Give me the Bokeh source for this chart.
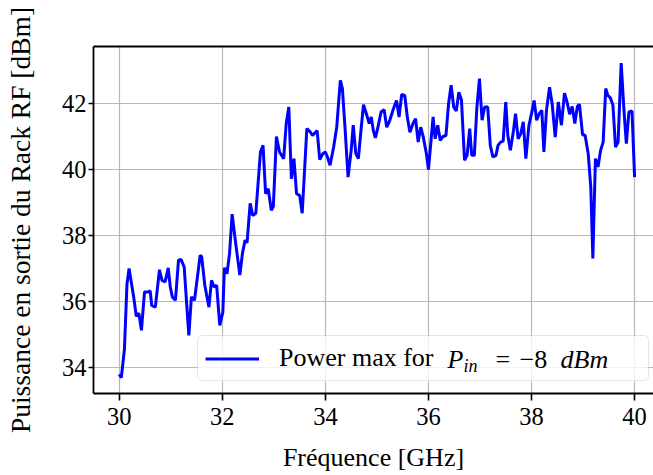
from bokeh.plotting import figure
from bokeh.models import Range1d, FixedTicker, LinearAxis, Legend, LegendItem, Label, BoxAnnotation
from bokeh.embed import file_html
from bokeh.resources import INLINE

# ---- data ----
freq_ghz = [30.00, 30.04, 30.10, 30.15, 30.19, 30.28, 30.33, 30.38, 30.43, 30.49,
            30.56, 30.60, 30.63, 30.70, 30.78, 30.83, 30.89, 30.95, 30.99, 31.03,
            31.09, 31.15, 31.20, 31.26, 31.35, 31.40, 31.46, 31.57, 31.60, 31.66,
            31.74, 31.79, 31.84, 31.89, 31.95, 32.01, 32.04, 32.09, 32.14, 32.19,
            32.26, 32.34, 32.39, 32.44, 32.48, 32.54, 32.59, 32.65, 32.74, 32.79,
            32.84, 32.89, 32.95, 32.99, 33.05, 33.11, 33.19, 33.24, 33.29, 33.34,
            33.39, 33.44, 33.50, 33.55, 33.64, 33.71, 33.75, 33.84, 33.89, 33.95,
            34.00, 34.04, 34.09, 34.16, 34.22, 34.29, 34.33, 34.38, 34.44, 34.50,
            34.54, 34.59, 34.64, 34.69, 34.74, 34.81, 34.85, 34.89, 34.93, 34.97,
            35.02, 35.08, 35.14, 35.19, 35.25, 35.32, 35.38, 35.43, 35.48, 35.54,
            35.59, 35.64, 35.70, 35.75, 35.80, 35.85, 35.90, 35.96, 36.00, 36.09,
            36.13, 36.18, 36.23, 36.28, 36.34, 36.39, 36.44, 36.49, 36.54, 36.59,
            36.64, 36.70, 36.75, 36.80, 36.84, 36.89, 36.94, 36.99, 37.04, 37.09,
            37.15, 37.20, 37.25, 37.31, 37.35, 37.40, 37.45, 37.50, 37.54, 37.59,
            37.65, 37.69, 37.74, 37.79, 37.84, 37.89, 37.95, 38.00, 38.05, 38.10,
            38.15, 38.20, 38.24, 38.29, 38.35, 38.40, 38.46, 38.52, 38.58, 38.64,
            38.69, 38.74, 38.79, 38.84, 38.89, 38.93, 38.99, 39.04, 39.10, 39.15,
            39.19, 39.24, 39.29, 39.34, 39.39, 39.44, 39.48, 39.53, 39.58, 39.63,
            39.68, 39.74, 39.79, 39.84, 39.89, 39.95, 40.00]

power_dbm = [33.80, 33.70, 34.55, 36.54, 37.00, 36.14, 35.55, 35.65, 35.13, 36.29,
             36.29, 36.32, 35.88, 35.83, 36.96, 36.64, 36.59, 37.02, 36.44, 36.14,
             36.04, 37.25, 37.27, 37.04, 34.98, 36.14, 36.04, 37.40, 37.35, 36.49,
             35.83, 36.64, 36.44, 36.49, 35.28, 35.68, 37.02, 36.84, 37.45, 38.64,
             37.75, 36.80, 37.45, 37.85, 37.78, 38.97, 38.60, 38.67, 40.52, 40.72,
             39.26, 39.41, 38.76, 38.88, 40.99, 40.52, 40.32, 41.38, 41.88, 39.71,
             40.32, 39.26, 39.21, 38.67, 41.23, 41.12, 41.02, 41.17, 40.29, 40.47,
             40.52, 40.37, 40.12, 40.67, 41.27, 42.69, 42.44, 41.27, 39.76, 40.57,
             41.33, 40.47, 40.32, 41.17, 41.95, 41.60, 41.38, 41.58, 41.17, 40.95,
             41.27, 41.73, 41.80, 41.27, 41.48, 41.83, 42.08, 41.58, 42.26, 42.23,
             41.58, 41.12, 41.38, 41.53, 40.82, 41.27, 40.97, 40.47, 39.99, 41.58,
             40.92, 41.33, 40.87, 40.99, 41.02, 41.98, 42.54, 41.88, 41.76, 42.33,
             42.10, 40.27, 40.42, 41.23, 40.42, 40.42, 41.88, 42.74, 41.48, 41.88,
             41.88, 40.72, 40.37, 40.42, 40.72, 40.82, 40.85, 42.03, 41.02, 40.57,
             41.17, 41.68, 40.92, 41.07, 41.43, 40.32, 41.33, 41.68, 42.08, 41.48,
             41.68, 41.78, 40.52, 41.78, 42.48, 41.98, 40.97, 42.03, 41.33, 42.30,
             42.03, 41.66, 41.90, 41.38, 41.90, 41.96, 41.05, 41.02, 40.47, 39.46,
             37.30, 40.32, 40.07, 40.57, 40.82, 42.44, 42.23, 42.16, 41.93, 40.67,
             40.82, 43.21, 41.88, 40.77, 41.73, 41.76, 39.76]

x_ticks = [30, 32, 34, 36, 38, 40]
y_ticks = [34, 36, 38, 40, 42]
x_label = "Fréquence [GHz]"
y_label = "Puissance en sortie du Rack RF [dBm]"
legend_text = "Power max for"
legend_math_p = "P"
legend_math_sub = "in"
legend_math_eq = "="
legend_math_val = "−8"
legend_math_unit = "dBm"

FONT = "Liberation Serif"

p = figure(width=653, height=475, output_backend="svg", toolbar_location=None,
           x_range=Range1d(29.5, 40.367), y_range=Range1d(33.22, 43.71),
           min_border_left=93, min_border_right=0, min_border_top=46, min_border_bottom=82)
p.outline_line_color = None
p.background_fill_color = "white"
p.border_fill_color = "white"

line = p.line(freq_ghz, power_dbm, line_color="#0000ff", line_width=3)

for ax in (p.xaxis[0], p.yaxis[0]):
    ax.axis_line_color = "black"
    ax.axis_line_width = 1.8
    ax.major_tick_line_color = "black"
    ax.major_tick_line_width = 1.6
    ax.major_tick_out = 7
    ax.major_tick_in = 0
    ax.minor_tick_out = 0
    ax.minor_tick_in = 0
    ax.major_label_standoff = 7
    ax.major_label_text_font = FONT
    ax.major_label_text_font_size = "24.5px"
    ax.major_label_text_color = "black"
    ax.major_label_text_line_height = 1.0
    ax.axis_label_text_font = FONT
    ax.axis_label_text_font_style = "normal"
    ax.axis_label_text_color = "black"
    ax.axis_label_text_line_height = 1.0

p.xaxis.ticker = FixedTicker(ticks=x_ticks)
p.yaxis.ticker = FixedTicker(ticks=y_ticks)
p.xaxis.axis_label = x_label
p.yaxis.axis_label = y_label
p.xaxis.axis_label_text_font_size = "26px"
p.yaxis.axis_label_text_font_size = "27.5px"
p.xaxis.axis_label_standoff = 15
p.yaxis.major_tick_out = 5
p.yaxis.major_label_standoff = 2
p.yaxis.axis_label_standoff = 23

top = LinearAxis(ticker=FixedTicker(ticks=[]), major_tick_out=0, major_tick_in=0,
                 minor_tick_out=0, minor_tick_in=0, major_label_text_font_size="0px",
                 major_label_standoff=0, axis_line_color="black", axis_line_width=1.8)
p.add_layout(top, "above")

p.xgrid.ticker = FixedTicker(ticks=x_ticks)
p.ygrid.ticker = FixedTicker(ticks=y_ticks)
p.grid.grid_line_color = "#b0b0b0"
p.grid.grid_line_width = 1.2
p.grid.grid_line_alpha = 0.9

# legend background (semi-transparent white, like the reference frame)
legend_bg = BoxAnnotation(left=104, right=554, bottom=12, top=57,
                          left_units="screen", right_units="screen",
                          bottom_units="screen", top_units="screen",
                          fill_color="white", fill_alpha=0.8, line_color=None,
                          border_radius=5, level="annotation")
p.add_layout(legend_bg)

legend = Legend(items=[LegendItem(label=legend_text, renderers=[line])],
                location=(104, 12), padding=7, margin=0, spacing=0,
                glyph_width=54, glyph_height=27, label_height=27, label_width=362,
                label_standoff=20, border_line_color="#cccccc", border_line_width=1.5,
                border_radius=5, background_fill_alpha=0.0,
                label_text_font=FONT, label_text_font_size="26px", label_text_color="black",
                label_text_line_height=0.9)
p.add_layout(legend)

ymid = 34.5
math_parts = [
    (legend_math_p, 354, ymid, "26px", "italic"),
    (legend_math_sub, 370, ymid - 7, "18px", "italic"),
    (legend_math_eq, 402, ymid, "26px", "normal"),
    (legend_math_val, 426, ymid, "26px", "normal"),
    (legend_math_unit, 467, ymid, "26px", "italic"),
]
for txt, sx, sy, fs, st in math_parts:
    p.add_layout(Label(x=sx, y=sy, x_units="screen", y_units="screen", text=txt,
                       text_font=FONT, text_font_size=fs, text_font_style=st,
                       text_baseline="middle", text_align="left", text_color="black",
                       level="overlay"))

open("out.html", "w").write(file_html(p, INLINE))
